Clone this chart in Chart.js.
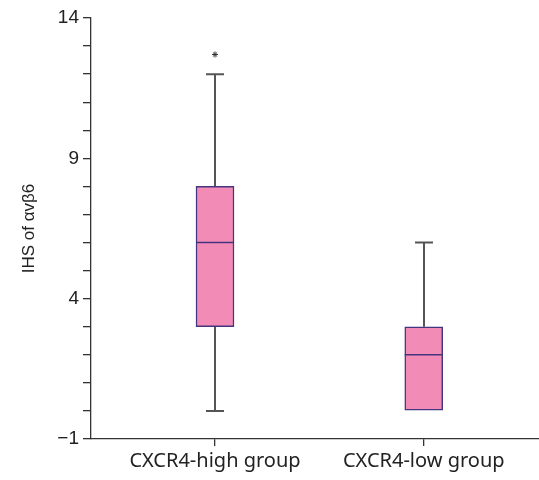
<!DOCTYPE html>
<html>
<head>
<meta charset="utf-8">
<script src="https://cdn.jsdelivr.net/npm/chart.js@4"></script>
<style>
  html, body { margin: 0; padding: 0; background: #fff; overflow: hidden; }
  canvas { display: block; }
</style>
</head>
<body>
<canvas id="boxChart" width="539" height="480"></canvas>
<script>
// groups on the x axis
const groups = ["CXCR4-high group", "CXCR4-low group"];
const groupPos = [1, 2];

// box plot summary per group
const whiskerLow = [0, 0];
const q1 = [3, 0];
const median = [6, 2];
const q3 = [8, 3];
const whiskerHigh = [12, 6];

// extreme value (*) for the high group
const outlierPos = [1];
const outlierVal = [12.7];

const yTicks = [-1, 4, 9, 14];

const boxFill = "#f38bb7";
const boxLine = "#45357f";
const whiskerColor = "#555555";

const boxData = groupPos.map((x, i) => ({ x, y: [q1[i], q3[i]] }));
const starData = outlierPos.map((x, i) => ({ x, y: outlierVal[i] }));

// whiskers + caps under the boxes, median on top of them
const boxExtras = {
    id: "boxExtras",
    beforeDatasetsDraw(chart) {
        const ctx = chart.ctx;
        const xs = chart.scales.x, ys = chart.scales.y;
        ctx.save();
        ctx.strokeStyle = whiskerColor;
        ctx.lineWidth = 2;
        groupPos.forEach((g, i) => {
            const px = Math.round(xs.getPixelForValue(g));
            const capHalf = 9;
            [[q3[i], whiskerHigh[i]], [q1[i], whiskerLow[i]]].forEach(([a, b]) => {
                if (a === b) return;
                const ya = ys.getPixelForValue(a), yb = ys.getPixelForValue(b);
                ctx.beginPath();
                ctx.moveTo(px, ya);
                ctx.lineTo(px, yb);
                ctx.moveTo(px - capHalf, yb);
                ctx.lineTo(px + capHalf, yb);
                ctx.stroke();
            });
        });
        ctx.restore();
    },
    afterDatasetsDraw(chart) {
        const ctx = chart.ctx;
        const ys = chart.scales.y;
        const meta = chart.getDatasetMeta(0);
        ctx.save();
        ctx.strokeStyle = boxLine;
        ctx.lineWidth = 1.5;
        meta.data.forEach((bar, i) => {
            const y = ys.getPixelForValue(median[i]);
            ctx.beginPath();
            ctx.moveTo(bar.x - bar.width / 2, y);
            ctx.lineTo(bar.x + bar.width / 2, y);
            ctx.stroke();
        });
        ctx.restore();
    }
};

const chart = new Chart(document.getElementById("boxChart"), {
    type: "bar",
    data: {
        datasets: [
            {
                label: "box",
                data: boxData,
                backgroundColor: boxFill,
                borderColor: boxLine,
                borderWidth: 1.5,
                borderSkipped: false,
                barThickness: 38
            },
            {
                type: "scatter",
                label: "extreme",
                data: starData,
                pointStyle: "star",
                radius: 3,
                borderColor: "#333",
                borderWidth: 1
            }
        ]
    },
    plugins: [boxExtras],
    options: {
        responsive: false,
        animation: false,
        layout: { autoPadding: false, padding: { top: 18, right: 0, left: 0, bottom: 0 } },
        plugins: { legend: { display: false }, tooltip: { enabled: false } },
        scales: {
            x: {
                type: "linear",
                offset: false,
                min: 0.406,
                max: 2.552,
                afterBuildTicks: s => { s.ticks = groupPos.map(v => ({ value: v })); },
                afterFit: s => {
                    s.height = 41;
                    s.paddingLeft = 0;
                    s.paddingRight = 0;
                },
                ticks: {
                    autoSkip: false,
                    maxRotation: 0,
                    padding: 3,
                    color: "#222",
                    font: { family: "'Noto Sans'", size: 20 },
                    callback: v => groups[groupPos.indexOf(v)] || ""
                },
                grid: { offset: false, drawOnChartArea: false, tickLength: 7, color: "#333", lineWidth: 1.3 },
                border: { color: "#333", width: 1.3 }
            },
            y: {
                min: -1,
                max: 14,
                afterBuildTicks: s => {
                    const t = [];
                    for (let v = -1; v <= 14; v++) t.push({ value: v });
                    s.ticks = t;
                },
                afterFit: s => {
                    s.width = 91;
                    s.paddingTop = 0;
                    s.paddingBottom = 0;
                },
                ticks: {
                    autoSkip: false,
                    padding: 4,
                    color: "#222",
                    font: { family: "'Liberation Sans', Arial", size: 19 },
                    callback: v => yTicks.includes(v) ? (v < 0 ? "\u2212" + Math.abs(v) : String(v)) : ""
                },
                grid: { drawOnChartArea: false, tickLength: 8, color: "#333", lineWidth: 1.3 },
                border: { color: "#333", width: 1.3 },
                title: {
                    display: true,
                    text: "IHS of \u03b1v\u03b26",
                    color: "#222",
                    font: { family: "'Liberation Sans', Arial", size: 17 },
                    padding: { top: 19, bottom: 0 }
                }
            }
        }
    }
});
</script>
</body>
</html>
